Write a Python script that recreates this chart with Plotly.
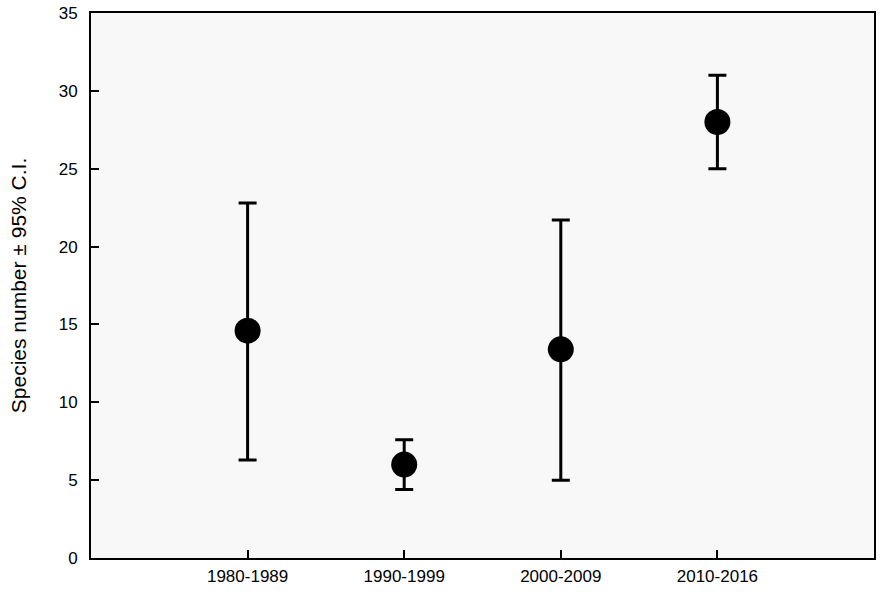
import plotly.graph_objects as go

periods = ["1980-1989", "1990-1999", "2000-2009", "2010-2016"]
species_mean = [14.6, 6.0, 13.4, 28.0]
ci_upper = [22.8, 7.6, 21.7, 31.0]
ci_lower = [6.3, 4.4, 5.0, 25.0]

err_plus = [u - m for u, m in zip(ci_upper, species_mean)]
err_minus = [m - l for m, l in zip(species_mean, ci_lower)]

fig = go.Figure()
fig.add_trace(go.Scatter(
    x=periods, y=species_mean, mode="markers",
    marker=dict(color="black", size=26),
    error_y=dict(type="data", symmetric=False, array=err_plus, arrayminus=err_minus,
                 color="black", thickness=3, width=9),
    showlegend=False,
))

font = "Liberation Sans, Arial, sans-serif"
fig.update_layout(
    width=887, height=594,
    margin=dict(l=91, r=13, t=13, b=36),
    paper_bgcolor="white", plot_bgcolor="#f8f8f8",
    font=dict(family=font, color="black", size=17),
    xaxis=dict(type="category", range=[-1, 4], showgrid=False, zeroline=False,
               showline=True, linewidth=2, linecolor="black", mirror=True,
               ticks="inside", ticklen=8, tickwidth=2, tickcolor="black",
               tickfont=dict(size=17), automargin=False, ticklabelstandoff=2),
    yaxis=dict(range=[0, 35], dtick=5, showgrid=False, zeroline=False,
               showline=True, linewidth=2, linecolor="black", mirror=True,
               ticks="inside", ticklen=8, tickwidth=2, tickcolor="black",
               tickfont=dict(size=17), automargin=False, ticklabelstandoff=8,
               ticklabeloverflow="allow",
               title=dict(text="Species number ± 95% C.I.", font=dict(size=21), standoff=26)),
)
fig.write_html("out.html", config={"displayModeBar": False},
               post_script="document.body.style.margin='0';")
